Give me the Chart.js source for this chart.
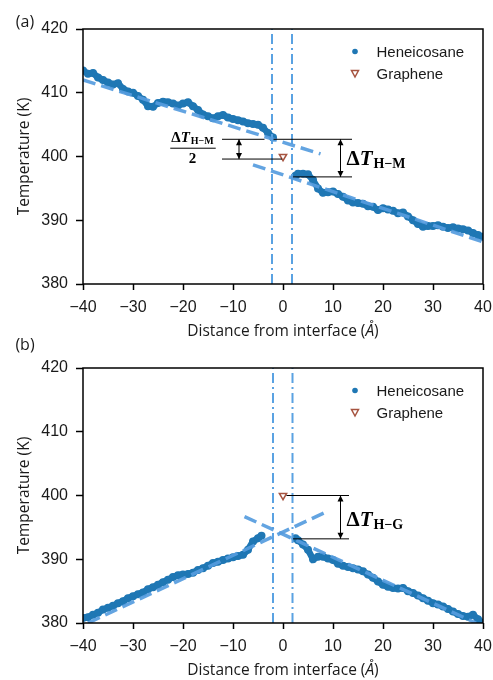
<!DOCTYPE html>
<html>
<head>
<meta charset="utf-8">
<script src="https://cdn.jsdelivr.net/npm/chart.js@4.4.0/dist/chart.umd.min.js"></script>
<style>
  body { margin: 0; background: #fff; }
  canvas { display: block; position: absolute; left: 0; }
  #chartA { top: 0; }
  #chartB { top: 336px; }
</style>
</head>
<body>
<canvas id="chartA" width="493" height="345"></canvas>
<canvas id="chartB" width="493" height="344"></canvas>
<script>
// ---- data ----
const xTicks = [-40, -30, -20, -10, 0, 10, 20, 30, 40];
const yTicks = [380, 390, 400, 410, 420];

// panel (a)
const aLeftX = [-40, -39, -38, -37, -36, -35, -34, -33, -32, -31, -30, -29, -28, -27, -26, -25, -24, -23, -22, -21, -20, -19, -18, -17, -16, -15, -14, -13, -12, -11, -10, -9, -8, -7, -6, -5, -4, -3, -2];
const aLeftT = [413.5, 413.0, 413.1, 412.4, 412.0, 411.6, 411.3, 411.5, 410.6, 410.2, 410.0, 409.5, 408.9, 407.9, 407.8, 408.4, 408.6, 408.5, 408.3, 408.0, 408.3, 408.5, 407.9, 407.3, 406.6, 406.3, 406.0, 406.3, 406.5, 406.1, 405.9, 405.7, 405.5, 405.2, 405.1, 405.0, 404.5, 403.7, 403.0];
const aRightX = [2.5, 3, 4, 5, 6, 7, 8, 9, 10, 11, 12, 13, 14, 15, 16, 17, 18, 19, 20, 21, 22, 23, 24, 25, 26, 27, 28, 29, 30, 31, 32, 33, 34, 35, 36, 37, 38, 39, 40];
const aRightT = [397.0, 397.3, 397.3, 397.2, 396.3, 395.0, 394.3, 394.4, 394.5, 394.1, 393.7, 393.1, 392.8, 392.7, 392.6, 392.2, 392.1, 391.6, 391.9, 391.7, 391.5, 391.1, 391.2, 390.6, 390.0, 389.4, 389.0, 389.1, 389.1, 389.2, 389.0, 388.8, 388.9, 388.7, 388.6, 388.4, 388.0, 387.7, 387.4];
const aFitLeft = [[-40, 412.0], [7.5, 400.4]];
const aFitRight = [[-6, 398.7], [40, 386.6]];
const aInterface = [-2.2, 1.8];
const aGraphene = [0, 400];

// panel (b)
const bLeftX = [-40, -39, -38, -37, -36, -35, -34, -33, -32, -31, -30, -29, -28, -27, -26, -25, -24, -23, -22, -21, -20, -19, -18, -17, -16, -15, -14, -13, -12, -11, -10, -9, -8, -7, -6, -5, -4.3];
const bLeftT = [380.8, 380.9, 381.3, 381.6, 382.1, 382.4, 382.7, 383.1, 383.4, 383.9, 384.2, 384.5, 384.8, 385.3, 385.6, 386.0, 386.4, 386.8, 387.2, 387.5, 387.6, 387.7, 387.9, 388.3, 388.6, 389.0, 389.4, 389.6, 389.9, 390.1, 390.3, 390.5, 390.7, 391.5, 392.8, 393.3, 393.7];
const bRightX = [2.5, 3, 4, 5, 6, 7, 8, 9, 10, 11, 12, 13, 14, 15, 16, 17, 18, 19, 20, 21, 22, 23, 24, 25, 26, 27, 28, 29, 30, 31, 32, 33, 34, 35, 36, 37, 38, 39, 40];
const bRightT = [393.3, 393.0, 392.3, 391.5, 390.0, 390.4, 390.4, 390.1, 389.9, 389.3, 389.0, 388.8, 388.6, 388.4, 388.1, 387.6, 387.1, 386.5, 386.0, 385.7, 385.5, 385.4, 385.5, 385.0, 384.7, 384.3, 383.9, 383.5, 383.1, 382.9, 382.6, 382.2, 381.8, 381.4, 381.1, 381.0, 381.3, 380.6, 380.0];
const bFitLeft = [[-39, 380.0], [8.3, 397.3]];
const bFitRight = [[-7.7, 396.7], [38.6, 380.0]];
const bInterface = [-2.0, 1.9];
const bGraphene = [0, 400];

// annotation guides (data units)
const aGuides = [[-12.2, 402.7, -3.7, 402.7], [-1.9, 402.7, 13.8, 402.7], [-12.2, 399.6, -0.2, 399.6], [2.0, 396.8, 13.8, 396.8]];
const aArrows = [[-8.8, 402.7, 399.6], [11.5, 402.7, 396.8]];
const bGuides = [[0.7, 400.0, 13.2, 400.0], [2.0, 393.2, 13.2, 393.2]];
const bArrows = [[11.5, 400.0, 393.2]];

const C0 = '#1f77b4';
const FIT = 'rgba(86,156,222,0.92)';
const IFACE = '#5aa2e2';
const BROWN = '#a65440';

Chart.defaults.font.family = '"Liberation Sans", Arial, sans-serif';
Chart.defaults.font.size = 16;
Chart.defaults.color = '#1a1a1a';

function pts(xs, ys) {
    return xs.map((x, i) => ({ x: x, y: ys[i] }));
}

function drawArrow(ctx, px, p1, p2) {
    const hl = 6, hw = 3;
    ctx.beginPath();
    ctx.moveTo(px, p1);
    ctx.lineTo(px, p2);
    ctx.stroke();
    [[p1, 1], [p2, -1]].forEach(([py, dir]) => {
        ctx.beginPath();
        ctx.moveTo(px, py);
        ctx.lineTo(px - hw, py + dir * hl);
        ctx.lineTo(px + hw, py + dir * hl);
        ctx.closePath();
        ctx.fill();
    });
}

// ΔT with bold subscript, left aligned at baseline
function drawDeltaT(ctx, x, base, big, small, sub, subDrop) {
    ctx.textAlign = 'left';
    ctx.textBaseline = 'alphabetic';
    ctx.font = 'bold ' + big + 'px "Liberation Serif", serif';
    ctx.fillText('Δ', x, base);
    x += ctx.measureText('Δ').width;
    ctx.font = 'italic bold ' + big + 'px "Liberation Serif", serif';
    ctx.fillText('T', x, base);
    x += ctx.measureText('T').width + 1;
    ctx.font = 'bold ' + small + 'px "Liberation Serif", serif';
    ctx.fillText(sub, x, base + subDrop);
    return x + ctx.measureText(sub).width;
}

function deltaTWidth(ctx, big, small, sub) {
    ctx.font = 'bold ' + big + 'px "Liberation Serif", serif';
    let w = ctx.measureText('Δ').width;
    ctx.font = 'italic bold ' + big + 'px "Liberation Serif", serif';
    w += ctx.measureText('T').width + 1;
    ctx.font = 'bold ' + small + 'px "Liberation Serif", serif';
    return w + ctx.measureText(sub).width;
}

const decorPlugin = {
    id: 'decor',
    afterDatasetsDraw(chart, args, opts) {
        const { ctx, chartArea: a, scales: { x, y } } = chart;
        ctx.save();
        ctx.strokeStyle = '#000';
        ctx.fillStyle = '#000';
        ctx.lineWidth = 1;
        opts.guides.forEach(([x1, y1, x2, y2]) => {
            ctx.beginPath();
            ctx.moveTo(x.getPixelForValue(x1), y.getPixelForValue(y1));
            ctx.lineTo(x.getPixelForValue(x2), y.getPixelForValue(y2));
            ctx.stroke();
        });
        opts.arrows.forEach(([ax, y1, y2]) => {
            drawArrow(ctx, x.getPixelForValue(ax), y.getPixelForValue(y1), y.getPixelForValue(y2));
        });
        ctx.lineWidth = 1.5;
        ctx.strokeRect(a.left, a.top, a.right - a.left, a.bottom - a.top);
        ctx.restore();
    },
    afterDraw(chart, args, opts) {
        const { ctx, chartArea: a, scales: { x, y } } = chart;
        ctx.save();
        ctx.fillStyle = '#000';

        // big ΔT label
        const lx = x.getPixelForValue(opts.label.x);
        const ly = y.getPixelForValue(opts.label.y);
        drawDeltaT(ctx, lx, ly + 8, 21, 14, opts.label.sub, 3.5);

        // fraction ΔT/2
        if (opts.fraction) {
            const fx = x.getPixelForValue(opts.fraction.x);
            const fy = y.getPixelForValue(opts.fraction.y);
            const w = deltaTWidth(ctx, 15, 10, 'H−M');
            drawDeltaT(ctx, fx - w / 2, fy - 6.5, 15, 10, 'H−M', 2.5);
            ctx.lineWidth = 1;
            ctx.strokeStyle = '#000';
            ctx.beginPath();
            ctx.moveTo(fx - w / 2 - 1, fy);
            ctx.lineTo(fx + w / 2 + 2, fy);
            ctx.stroke();
            ctx.font = 'bold 15px "Liberation Serif", serif';
            ctx.textAlign = 'center';
            ctx.fillText('2', fx, fy + 15);
        }

        // legend
        ctx.font = '15px "Liberation Sans", Arial, sans-serif';
        ctx.textAlign = 'left';
        ctx.textBaseline = 'middle';
        const r1 = a.top + 22.5, r2 = a.top + 44.5;
        ctx.fillStyle = C0;
        ctx.beginPath();
        ctx.arc(355, r1, 2.8, 0, Math.PI * 2);
        ctx.fill();
        ctx.strokeStyle = BROWN;
        ctx.lineWidth = 1.5;
        ctx.beginPath();
        ctx.moveTo(351.5, r2 - 3);
        ctx.lineTo(358.5, r2 - 3);
        ctx.lineTo(355, r2 + 3.5);
        ctx.closePath();
        ctx.stroke();
        ctx.fillStyle = '#1a1a1a';
        ctx.fillText('Heneicosane', 376.5, r1 + 1);
        ctx.fillText('Graphene', 376.5, r2 + 1);

        // axis titles
        ctx.font = '15.5px "Open Sans", sans-serif';
        ctx.textAlign = 'center';
        ctx.save();
        ctx.translate(25, (a.top + a.bottom) / 2);
        ctx.rotate(-Math.PI / 2);
        ctx.fillText('Temperature (K)', 0, 0);
        ctx.restore();

        const parts = [['Distance from interface (', '15.5px "Open Sans", sans-serif'],
                       ['Å', 'italic 15.5px "Open Sans", sans-serif'],
                       [')', '15.5px "Open Sans", sans-serif']];
        let total = 0;
        parts.forEach(p => { ctx.font = p[1]; total += ctx.measureText(p[0]).width; });
        let tx = (a.left + a.right) / 2 - total / 2;
        ctx.textAlign = 'left';
        parts.forEach(p => {
            ctx.font = p[1];
            ctx.fillText(p[0], tx, a.bottom + 47.5);
            tx += ctx.measureText(p[0]).width;
        });

        // panel tag
        ctx.font = '16px "Open Sans", sans-serif';
        ctx.textAlign = 'center';
        ctx.fillText(opts.tag, 25, opts.tagY);
        ctx.restore();
    }
};

function buildChart(id, p) {
    const canvas = document.getElementById(id);
    const H = canvas.height;
    return new Chart(canvas.getContext('2d'), {
        type: 'scatter',
        data: {
            datasets: [
                {
                    label: 'Graphene',
                    data: [{ x: p.graphene[0], y: p.graphene[1] }],
                    pointStyle: 'triangle',
                    pointRotation: 180,
                    pointRadius: 4.2,
                    pointBorderWidth: 1.5,
                    pointBorderColor: BROWN,
                    pointBackgroundColor: 'rgba(0,0,0,0)',
                    order: 0
                },
                {
                    label: 'fit left',
                    data: p.fitLeft.map(d => ({ x: d[0], y: d[1] })),
                    showLine: true, borderColor: FIT, borderWidth: 3.5, borderDash: [13, 6], pointRadius: 0,
                    order: 1
                },
                {
                    label: 'fit right',
                    data: p.fitRight.map(d => ({ x: d[0], y: d[1] })),
                    showLine: true, borderColor: FIT, borderWidth: 3.5, borderDash: [13, 6], pointRadius: 0,
                    order: 1
                },
                {
                    label: 'interface 1',
                    data: [{ x: p.iface[0], y: 380 }, { x: p.iface[0], y: 420 }],
                    showLine: true, borderColor: IFACE, borderWidth: 2, borderDash: [10, 4, 2, 4], pointRadius: 0,
                    order: 2
                },
                {
                    label: 'interface 2',
                    data: [{ x: p.iface[1], y: 380 }, { x: p.iface[1], y: 420 }],
                    showLine: true, borderColor: IFACE, borderWidth: 2, borderDash: [10, 4, 2, 4], pointRadius: 0,
                    order: 2
                },
                {
                    label: 'Heneicosane',
                    data: pts(p.leftX, p.leftT),
                    showLine: true, borderColor: C0, borderWidth: 6.5,
                    pointRadius: 4, pointBorderWidth: 0, pointBackgroundColor: C0,
                    order: 3
                },
                {
                    label: 'Heneicosane',
                    data: pts(p.rightX, p.rightT),
                    showLine: true, borderColor: C0, borderWidth: 6.5,
                    pointRadius: 4, pointBorderWidth: 0, pointBackgroundColor: C0,
                    order: 3
                }
            ]
        },
        options: {
            responsive: false,
            animation: false,
            devicePixelRatio: 1,
            layout: { padding: { top: p.top, right: 10, left: 0, bottom: 0 } },
            scales: {
                x: {
                    type: 'linear',
                    min: -40, max: 40,
                    afterBuildTicks: s => { s.ticks = xTicks.map(v => ({ value: v })); },
                    afterFit: s => { s.height = H - p.bottom; s.paddingLeft = 0; s.paddingRight = 0; },
                    ticks: {
                        padding: 8,
                        maxRotation: 0,
                        callback: v => v < 0 ? '−' + Math.abs(v) : String(v)
                    },
                    grid: { drawOnChartArea: false, drawTicks: true, tickLength: 6, tickWidth: 1.5, tickColor: '#000' },
                    border: { display: false }
                },
                y: {
                    min: 380, max: 420,
                    afterBuildTicks: s => { s.ticks = yTicks.map(v => ({ value: v })); },
                    afterFit: s => { s.width = 83; s.paddingTop = 0; s.paddingBottom = 0; },
                    ticks: { padding: 8 },
                    grid: { drawOnChartArea: false, drawTicks: true, tickLength: 7, tickWidth: 1.5, tickColor: '#000' },
                    border: { display: false }
                }
            },
            plugins: {
                legend: { display: false },
                tooltip: { enabled: false },
                decor: {
                    guides: p.guides,
                    arrows: p.arrows,
                    label: p.label,
                    fraction: p.fraction,
                    tag: p.tag,
                    tagY: p.tagY
                }
            }
        },
        plugins: [decorPlugin]
    });
}

buildChart('chartA', {
    top: 29, bottom: 284,
    leftX: aLeftX, leftT: aLeftT, rightX: aRightX, rightT: aRightT,
    fitLeft: aFitLeft, fitRight: aFitRight, iface: aInterface, graphene: aGraphene,
    guides: aGuides, arrows: aArrows,
    label: { x: 12.7, y: 400.0, sub: 'H−M' },
    fraction: { x: -18.1, y: 401.3 },
    tag: '(a)', tagY: 22
});

buildChart('chartB', {
    top: 32, bottom: 287,
    leftX: bLeftX, leftT: bLeftT, rightX: bRightX, rightT: bRightT,
    fitLeft: bFitLeft, fitRight: bFitRight, iface: bInterface, graphene: bGraphene,
    guides: bGuides, arrows: bArrows,
    label: { x: 12.7, y: 396.5, sub: 'H−G' },
    fraction: null,
    tag: '(b)', tagY: 9.5
});
</script>
</body>
</html>
